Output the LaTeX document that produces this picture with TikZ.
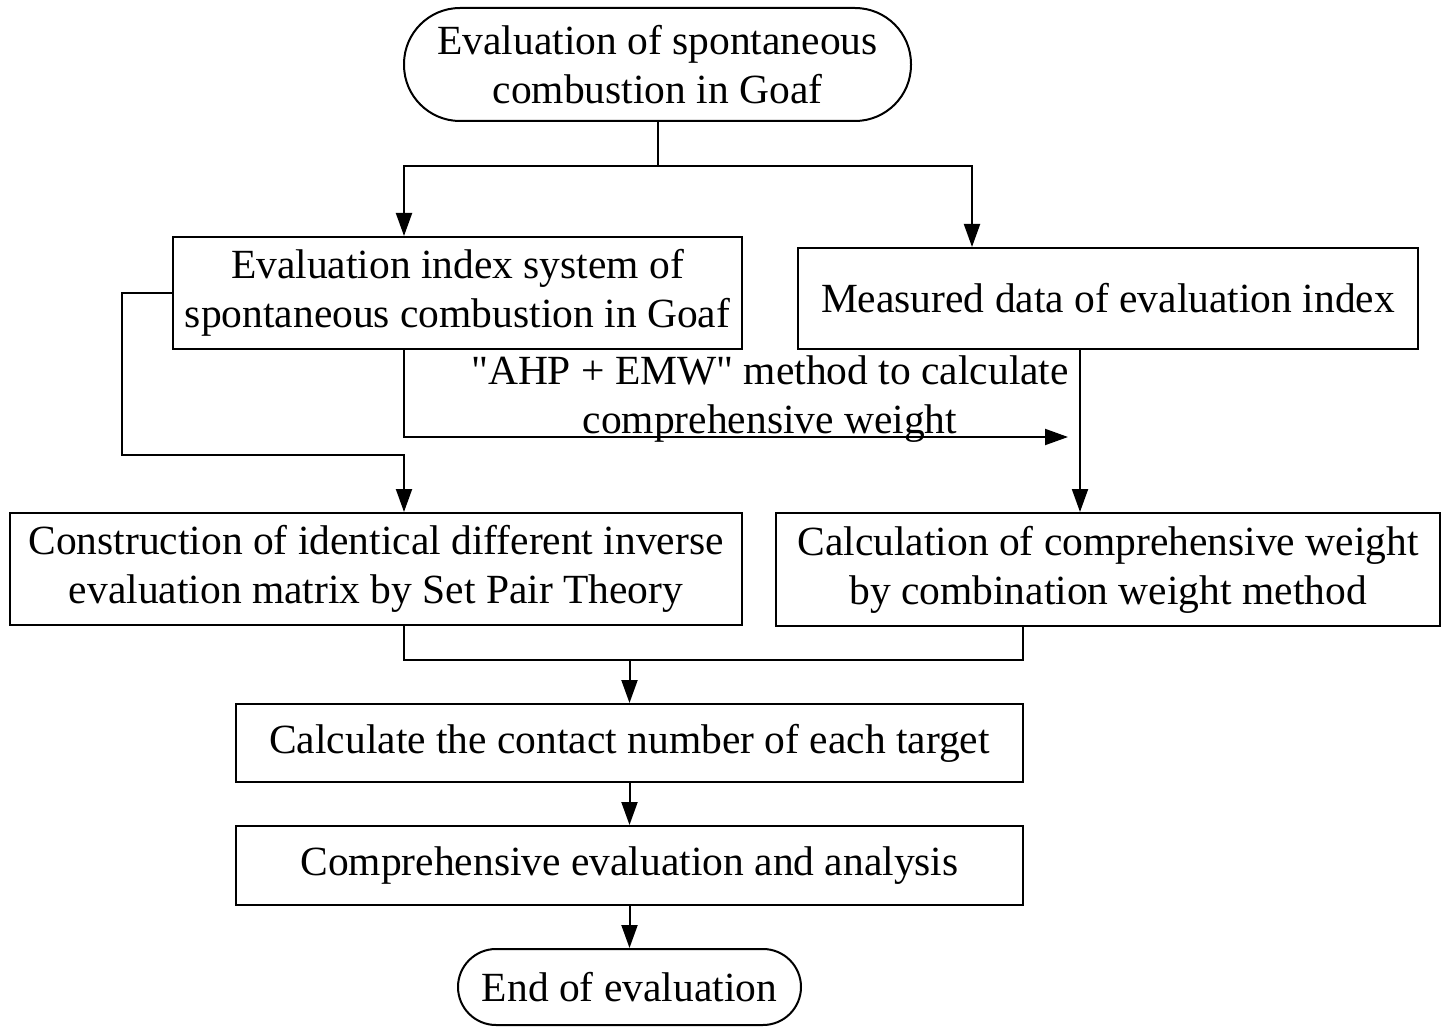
\documentclass[tikz,border=0pt]{standalone}
\usepackage{fontspec}
\setmainfont{Liberation Serif}
\usetikzlibrary{arrows.meta,calc}
\begin{document}
\begin{tikzpicture}[x=1pt,y=-1pt,
  line width=2pt,
  every node/.style={font=\fontsize{41.5}{49}\selectfont, align=center, inner sep=0pt},
  stepbox/.style={draw, rectangle},
  termbox/.style={draw, rectangle, rounded corners=#1},
  arr/.style={-{Triangle[length=23pt,width=16pt]}}]
\useasboundingbox[fill=white] (0,0) rectangle (1451,1027);

\node[termbox=56pt, minimum width=507pt, minimum height=113pt] (start) at (657.5,64.5)
  {Evaluation of spontaneous\\combustion in Goaf};
\node[stepbox, minimum width=569pt, minimum height=112pt] (box1) at (457.5,293)
  {Evaluation index system of\\spontaneous combustion in Goaf};
\node[stepbox, minimum width=620pt, minimum height=101pt] (box2) at (1108,298.5)
  {Measured data of evaluation index};
\node (label) at (770,399)
  {\textquotedbl AHP + EMW\textquotedbl{} method to calculate\\comprehensive weight};
\node[stepbox, minimum width=732pt, minimum height=112pt] (box3) at (376,569)
  {Construction of identical different inverse\\evaluation matrix by Set Pair Theory};
\node[stepbox, minimum width=664pt, minimum height=113pt] (box4) at (1108,569.5)
  {Calculation of comprehensive weight\\by combination weight method};
\node[stepbox, minimum width=787pt, minimum height=78pt] (box5) at (629.5,743)
  {Calculate the contact number of each target};
\node[stepbox, minimum width=787pt, minimum height=79pt] (box6) at (629.5,865.5)
  {Comprehensive evaluation and analysis};
\node[termbox=38pt, minimum width=343pt, minimum height=76pt] (end) at (629.5,987)
  {End of evaluation};

\coordinate (xA) at (404,0);
\coordinate (xB) at (972,0);
\coordinate (xC) at (1080,0);
\coordinate (xD) at (1023,0);
\coordinate (j1) at (657.5,166);
\coordinate (loopL) at (122,455);
\coordinate (wEnd) at (1068,437);
\coordinate (j2) at (629.5,660);

\draw (start.south) -- (j1);
\draw[arr] (j1) -| (box1.north -| xA);
\draw[arr] (j1) -| (box2.north -| xB);
\draw[arr] (box1.west) -| (loopL) -| (box3.north -| xA);
\draw[arr] (box1.south -| xA) |- (wEnd);
\draw[arr] (box2.south -| xC) -- (box4.north -| xC);
\draw (box3.south -| xA) -- (xA |- j2) -- (xD |- j2) -- (box4.south -| xD);
\draw[arr] (j2) -- (box5.north);
\draw[arr] (box5.south) -- (box6.north);
\draw[arr] (box6.south) -- (end.north);
\end{tikzpicture}
\end{document}
